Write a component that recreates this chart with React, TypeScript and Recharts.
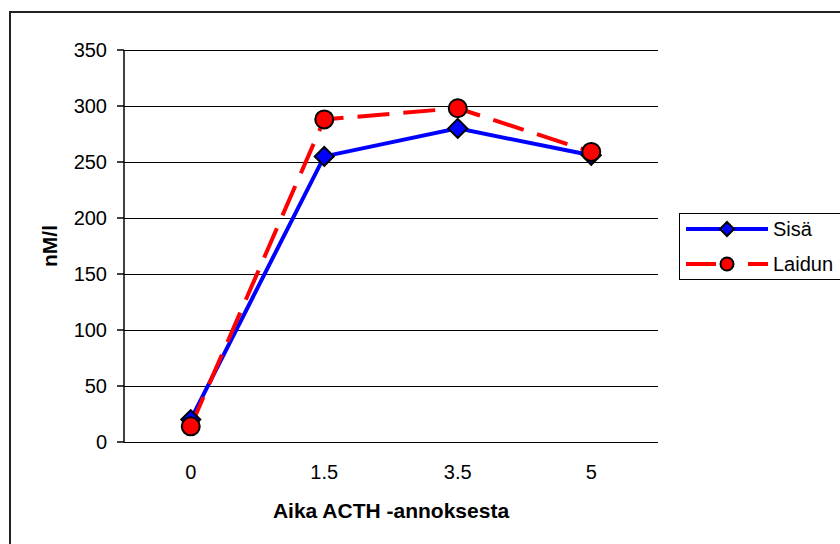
import React from "react";
import {
  LineChart,
  Line,
  XAxis,
  YAxis,
  CartesianGrid,
  Legend,
} from "recharts";

// aika ACTH-annoksesta (h)
const categories = ["0", "1.5", "3.5", "5"];
const sisaValues = [20, 255, 280, 256];
const laidunValues = [14, 288, 298, 259];
const yTicks = [0, 50, 100, 150, 200, 250, 300, 350];
const frameTicks = [0, 1, 2, 3, 4];

const FONT = "'Liberation Sans', Arial, sans-serif";
const BLUE = "#0000FF";
const RED = "#FF0000";

const data = categories.map((t, i) => ({
  t,
  sisa: sisaValues[i],
  laidun: laidunValues[i],
}));

const diamondPath = (cx: number, cy: number, r: number) =>
  `M${cx},${cy - r}L${cx + r},${cy}L${cx},${cy + r}L${cx - r},${cy}Z`;

const DiamondDot = (props: any) => {
  const { cx, cy } = props;
  if (cx == null || cy == null) return null;
  return (
    <path
      d={diamondPath(cx, cy, 9.5)}
      fill={BLUE}
      stroke="#000"
      strokeWidth={2}
    />
  );
};

const CircleDot = (props: any) => {
  const { cx, cy } = props;
  if (cx == null || cy == null) return null;
  return <circle cx={cx} cy={cy} r={9} fill={RED} stroke="#000" strokeWidth={2} />;
};

const ExcelLegend = () => (
  <div
    style={{
      width: 200,
      height: 67,
      border: "1.5px solid #000",
      boxSizing: "border-box",
      background: "#fff",
    }}
  >
    <svg width={200} height={64} style={{ display: "block" }}>
      {/* Sisä */}
      <line x1={6} y1={15} x2={88} y2={15} stroke={BLUE} strokeWidth={4} />
      <path d={diamondPath(47, 15, 7)} fill={BLUE} stroke="#000" strokeWidth={2} />
      <text x={93} y={22} fontSize={20} fontFamily={FONT} fill="#000">
        Sisä
      </text>
      {/* Laidun */}
      <line x1={6} y1={50} x2={88} y2={50} stroke={RED} strokeWidth={4} strokeDasharray="30 32 30" />
      <circle cx={47} cy={50} r={6.5} fill={RED} stroke="#000" strokeWidth={2} />
      <text x={93} y={57} fontSize={20} fontFamily={FONT} fill="#000">
        Laidun
      </text>
    </svg>
  </div>
);

export default function App() {
  return (
    <div
      style={{
        position: "absolute",
        left: 0,
        top: 0,
        width: 840,
        height: 544,
        overflow: "hidden",
        background: "#fff",
        fontFamily: FONT,
      }}
    >
      {/* chart area border */}
      <div
        style={{
          position: "absolute",
          left: 9,
          top: 11,
          width: 900,
          height: 600,
          border: "2px solid #222",
          boxSizing: "border-box",
        }}
      />
      <div style={{ position: "absolute", left: 0, top: 0 }}>
        <LineChart
          width={840}
          height={544}
          data={data}
          margin={{ top: 50, right: 182, bottom: 0, left: 0 }}
        >
          <CartesianGrid
            xAxisId="cat"
            vertical={false}
            stroke="#000"
            strokeWidth={1}
            shapeRendering="crispEdges"
          />
          <XAxis
            xAxisId="frame"
            type="number"
            domain={[0, 4]}
            ticks={frameTicks}
            tick={false}
            tickSize={7}
            height={0}
            axisLine={{ stroke: "#000", strokeWidth: 1.5 }}
            tickLine={{ stroke: "#000", strokeWidth: 1.5 }}
          />
          <XAxis
            xAxisId="cat"
            dataKey="t"
            scale="band"
            height={102}
            axisLine={false}
            tickLine={false}
            tickSize={0}
            tickMargin={23}
            tick={{ fill: "#000", fontSize: 20, fontFamily: FONT }}
            label={{
              value: "Aika ACTH -annoksesta",
              position: "insideBottom",
              offset: 26,
              fill: "#000",
              fontSize: 21,
              fontWeight: "bold",
              fontFamily: FONT,
            }}
          />
          <XAxis
            xAxisId="top"
            orientation="top"
            type="number"
            domain={[0, 4]}
            height={0}
            tick={false}
            tickLine={false}
            axisLine={{ stroke: "#808080", strokeWidth: 2.5 }}
          />
          <YAxis
            yAxisId="right"
            orientation="right"
            domain={[0, 350]}
            width={0}
            tick={false}
            tickLine={false}
            axisLine={{ stroke: "#808080", strokeWidth: 2.5 }}
          />
          <YAxis
            domain={[0, 350]}
            ticks={yTicks}
            interval={0}
            width={124}
            tickSize={7}
            tickMargin={10}
            axisLine={{ stroke: "#000", strokeWidth: 1.5 }}
            tickLine={{ stroke: "#000", strokeWidth: 1.5 }}
            tick={{ fill: "#000", fontSize: 20, fontFamily: FONT }}
            label={{
              value: "nM/l",
              angle: -90,
              position: "center",
              dx: -12,
              fill: "#000",
              fontSize: 21,
              fontWeight: "bold",
              fontFamily: FONT,
            }}
          />
          <Line
            xAxisId="cat"
            dataKey="sisa"
            name="Sisä"
            stroke={BLUE}
            strokeWidth={4}
            dot={<DiamondDot />}
            activeDot={false}
            isAnimationActive={false}
          />
          <Line
            xAxisId="cat"
            dataKey="laidun"
            name="Laidun"
            stroke={RED}
            strokeWidth={4}
            strokeDasharray="32 14"
            dot={<CircleDot />}
            activeDot={false}
            isAnimationActive={false}
          />
          <Legend
            layout="vertical"
            align="center"
            verticalAlign="middle"
            content={<ExcelLegend />}
            wrapperStyle={{ left: 679, top: 213, width: 200, height: 67 }}
          />
        </LineChart>
      </div>
    </div>
  );
}
